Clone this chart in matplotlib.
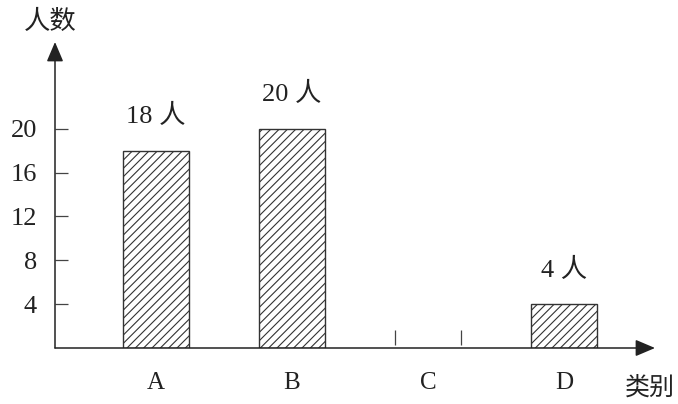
import matplotlib
matplotlib.use("Agg")
import matplotlib.pyplot as plt
import numpy as np

categories = ["A", "B", "C", "D"]
values = [18, 20, None, 4]
value_labels = ["18 人", "20 人", "", "4 人"]
yticks = [4, 8, 12, 16, 20]
ylabel = "人数"
xlabel = "类别"

plt.rcParams['hatch.linewidth'] = 0.8
plt.rcParams['hatch.color'] = '#333333'
fam = ['Liberation Serif', 'Noto Sans CJK SC']
plt.rcParams['font.family'] = fam

W, H = 678, 404
fig = plt.figure(figsize=(W / 100, H / 100), dpi=100)
ax = fig.add_axes([55 / W, 56 / H, 600 / W, 306 / H])

x = np.arange(len(categories))
width = 0.49
for xi, v, lab in zip(x, values, value_labels):
    if v is None:
        # empty bar: only short edge marks
        ax.vlines([xi - width / 2, xi + width / 2], 0.3, 1.6, color='#444444', lw=0.9)
        continue
    ax.bar(xi, v, width=width, facecolor='white', edgecolor='#333333',
           hatch='////', linewidth=1.0)
    ax.annotate(lab, (xi, v), xytext=(0, 16), textcoords='offset points',
                ha='center', va='bottom', fontsize=19, color='#222222')

ax.set_xlim(-0.743, 3.669)
ax.set_ylim(0, 27.9)
for s in ax.spines.values():
    s.set_visible(False)

ax.set_yticks(yticks)
ax.set_yticklabels([str(t) for t in yticks], fontsize=19, color='#222222')
ax.tick_params(axis='y', direction='in', length=9.5, width=0.9, pad=13, color='#444444')
ax.set_xticks(x)
ax.set_xticklabels(categories, fontsize=18, color='#222222')
ax.tick_params(axis='x', length=0, pad=17)

arrow = dict(arrowstyle='-|>,head_length=0.4,head_width=0.17', mutation_scale=30,
             color='#222222', lw=1.1, shrinkA=0, shrinkB=0)
ax.annotate('', xy=(1, 0), xytext=(0, 0), xycoords='axes fraction', arrowprops=arrow)
ax.annotate('', xy=(0, 1), xytext=(0, 0), xycoords='axes fraction', arrowprops=arrow)

fig.text(50 / W, 1 - 21 / H, ylabel, ha='center', va='center', fontsize=19,
         color='#222222', family=['Noto Sans CJK SC'])
fig.text(675 / W, 1 - 388 / H, xlabel, ha='right', va='center', fontsize=18,
         color='#222222', family=['Noto Sans CJK SC'])

fig.savefig("out.png", dpi=100, facecolor='white')
